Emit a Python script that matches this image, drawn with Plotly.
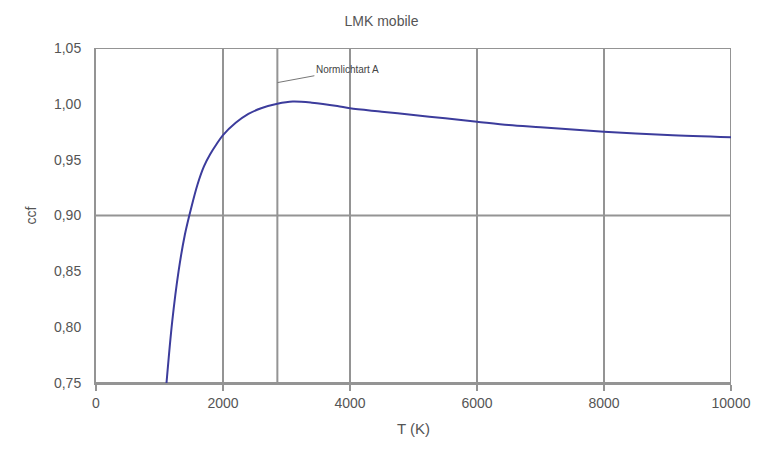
import plotly.graph_objects as go

# Colour correction factor vs. colour temperature
temperature_k = [1110, 1200, 1300, 1400, 1500, 1600, 1700, 1800, 1900, 2000,
                 2200, 2400, 2600, 2856, 3100, 3400, 3800, 4000, 4500, 5000,
                 5500, 6000, 6500, 7000, 8000, 9000, 10000]
ccf = [0.750, 0.805, 0.850, 0.883, 0.907, 0.928, 0.944, 0.955, 0.964, 0.972,
       0.983, 0.991, 0.996, 1.000, 1.002, 1.001, 0.998, 0.996, 0.993, 0.990,
       0.987, 0.984, 0.981, 0.979, 0.975, 0.972, 0.970]

x_ticks = [0, 2000, 4000, 6000, 8000, 10000]
y_ticks = [0.75, 0.80, 0.85, 0.90, 0.95, 1.00, 1.05]
y_grid = [0.75, 0.90, 1.05]
illuminant_a_t = 2856
illuminant_a_label = "Normlichtart A"

GRID = "#949494"
TEXT = "#555555"
FONT = "Liberation Sans, Arial, sans-serif"

fig = go.Figure()
fig.add_trace(go.Scatter(
    x=temperature_k, y=ccf, mode="lines",
    line=dict(color="#3c3c9c", width=2, shape="spline", smoothing=0.9),
    showlegend=False, hoverinfo="x+y",
))

# Horizontal grid lines only at every third tick
for v in y_grid:
    fig.add_hline(y=v, line=dict(color=GRID, width=2), layer="below")

# Vertical grid lines at the labelled ticks and at illuminant A
for t in x_ticks[1:] + [illuminant_a_t]:
    fig.add_vline(x=t, line=dict(color=GRID, width=2), layer="below")

fig.add_annotation(
    x=illuminant_a_t, y=1.019, text=illuminant_a_label,
    showarrow=True, arrowhead=0, arrowwidth=1, arrowcolor="#777777",
    ax=70, ay=-13, font=dict(size=10, color="#444444", family=FONT),
)

fig.update_layout(
    width=763, height=459,
    margin=dict(l=96, r=28, t=48, b=76),
    paper_bgcolor="white", plot_bgcolor="white",
    separators=", ",
    title=dict(text="LMK mobile", x=0.5, xanchor="center", y=0.965,
               font=dict(size=14, color=TEXT, family=FONT)),
    xaxis=dict(
        range=[0, 10000], tickvals=x_ticks, tickformat="d",
        showgrid=False, zeroline=False,
        showline=True, linecolor=GRID, linewidth=2,
        ticks="outside", ticklen=6, tickwidth=1.5, tickcolor=GRID,
        tickfont=dict(size=14, color=TEXT, family=FONT),
        title=dict(text="T (K)", font=dict(size=15, color=TEXT, family=FONT),
                   standoff=14),
    ),
    yaxis=dict(
        range=[0.75, 1.05], tickvals=y_ticks, tickformat=".2f",
        showgrid=False, zeroline=False,
        showline=True, linecolor=GRID, linewidth=2,
        ticks="", ticklabelstandoff=10,
        tickfont=dict(size=14, color=TEXT, family=FONT),
        title=dict(text="ccf", font=dict(size=14, color=TEXT, family=FONT),
                   standoff=14),
    ),
)

fig.write_html("out.html")
